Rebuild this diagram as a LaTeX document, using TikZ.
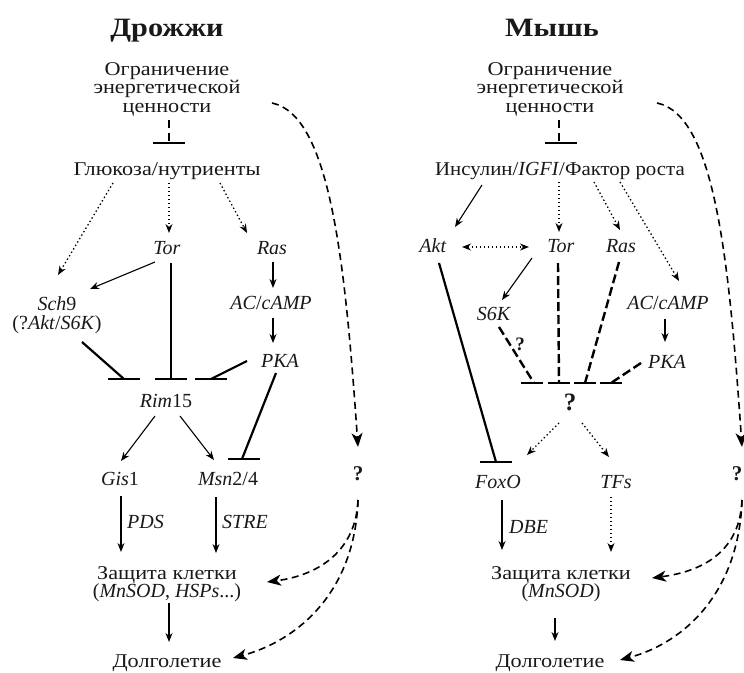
\documentclass[tikz,border=0pt]{standalone}
\usepackage{fontspec}
\setmainfont{Liberation Serif}
\newfontfamily\cyr{Liberation Serif}[FakeStretch=1.14]
\newfontfamily\cyrn{Liberation Serif}[FakeStretch=1.07]
\usetikzlibrary{arrows.meta,calc}
\begin{document}
\begin{tikzpicture}[x=1pt,y=-1pt,
  every node/.style={inner sep=0pt, font=\fontsize{20}{18.5}\selectfont, text=black!90},
  lbl/.style={anchor=base},
  ml/.style={align=center},
  cy/.style={font=\cyr\fontsize{19.5}{18.5}\selectfont},
  ttl/.style={anchor=base,font=\cyr\fontsize{26.5}{30}\selectfont\bfseries},
  qm/.style={anchor=base,font=\fontsize{21}{24}\selectfont\bfseries},
  tip/.tip={Stealth[length=9pt,width=7pt]},
  ar/.style={line width=1.1pt,-tip},
  dar/.style={ar, line width=1.3pt, dash pattern=on 1.4pt off 2.6pt},
  inhs/.style={line width=2.2pt},
  inhd/.style={line width=2.2pt,dash pattern=on 8pt off 4.5pt},
  inhdd/.style={line width=2.4pt,dash pattern=on 9pt off 4pt},
  barl/.style={line width=2.4pt},
  lar/.style={line width=1.6pt,dash pattern=on 7pt off 4.5pt,-{Stealth[length=14pt,width=11pt,inset=4pt]}},
]
\useasboundingbox (0,0) rectangle (744,672);

% ---------------- left: yeast ----------------
\node[ttl] (t1) at (167,36) {Дрожжи};
\node[ml,cy] (cr1) at (167,89) {Ограничение\\энергетической\\ценности};
\node[lbl,cy] (glu) at (167,175) {Глюкоза/нутриенты};
\node[lbl] (tor1) at (167,254) {\textit{Tor}};
\node[lbl] (ras1) at (272,254) {\textit{Ras}};
\node[ml] (sch) at (57,315) {\textit{Sch}9\\(?\textit{Akt}/\textit{S6K})};
\node[lbl] (ac1) at (271,309) {\textit{AC}/\textit{cAMP}};
\node[lbl] (pka1) at (280,367) {\textit{PKA}};
\node[lbl] (rim) at (166,407) {\textit{Rim}15};
\node[lbl] (gis) at (120,485) {\textit{Gis}1};
\node[lbl] (msn) at (228,485) {\textit{Msn}2/4};
\node[qm] (q1) at (358,480) {?};
\node[lbl,anchor=base west] (pds) at (127,528) {\textit{PDS}};
\node[lbl,anchor=base west] (stre) at (222,528) {\textit{STRE}};
\node[ml] (zas1) at (167,584) {{\cyr\fontsize{19.5}{18.5}\selectfont Защита клетки}\\(\textit{MnSOD}, \textit{HSPs}...)};
\node[lbl,cy] (dol1) at (167,667) {Долголетие};

\draw[inhd] ($(cr1.center)+(2,31)$) -- ($(glu.base)+(2,-32)$);
\draw[barl] ($(glu.base)+(-14,-32)$) -- ($(glu.base)+(18,-32)$);
\draw[dar] ($(glu.base)+(-54,8)$) -- ($(sch.center)+(1,-40)$);
\draw[dar] ($(glu.base)+(2,8)$) -- ($(tor1.base)+(2,-21)$);
\draw[dar] ($(glu.base)+(53,8)$) -- ($(ras1.base)+(-25,-21)$);
\draw[ar] ($(tor1.base)+(-12,8)$) -- ($(sch.center)+(33,-26)$);
\draw[ar] ($(ras1.base)+(1,8)$) -- ($(ac1.base)+(2,-21)$);
\draw[ar] ($(ac1.base)+(2,9)$) -- ($(pka1.base)+(-7,-24)$);
\coordinate (b1) at ($(rim.base)+(-42,-28)$);
\coordinate (b2) at ($(rim.base)+(5,-28)$);
\coordinate (b3) at ($(rim.base)+(45,-28)$);
\coordinate (b4) at ($(msn.base)+(16,-26)$);
\draw[inhs] ($(sch.center)+(25,27)$) -- (b1);
\draw[inhs] ($(tor1.base)+(4,9)$) -- (b2);
\draw[inhs] ($(pka1.base)+(-33,-6)$) -- (b3);
\draw[inhs] ($(pka1.base)+(-4,6)$) -- ($(b4)+(-2,0)$);
\foreach \b in {b1,b2,b3,b4} \draw[barl] ($(\b)+(-16,0)$) -- ($(\b)+(16,0)$);
\draw[ar] ($(rim.base)+(-11,9)$) -- ($(gis.base)+(1,-24)$);
\draw[ar] ($(rim.base)+(14,9)$) -- ($(msn.base)+(-14,-25)$);
\draw[ar] ($(gis.base)+(1,11)$) -- ($(zas1.center)+(-46,-32)$);
\draw[ar] ($(msn.base)+(-12,12)$) -- ($(zas1.center)+(49,-31)$);
\draw[ar] ($(zas1.center)+(2,19)$) -- ($(dol1.base)+(2,-25)$);
\draw[lar] ($(cr1.center)+(105,14)$) .. controls +(58,12) and +(-13,-187) .. ($(q1.base)+(0,-33)$);
\draw[lar] ($(q1.base)+(0,20)$) .. controls +(-2,50) and +(53,-7) .. ($(zas1.center)+(100,-2)$);
\draw[lar] ($(q1.base)+(0,20)$) .. controls +(-3,90) and +(67,-18) .. ($(dol1.base)+(66,-9)$);

% ---------------- right: mouse ----------------
\node[ttl] (t2) at (552,36) {Мышь};
\node[ml,cy] (cr2) at (550,89) {Ограничение\\энергетической\\ценности};
\node[lbl] (ins) at (560,175) {{\cyrn\fontsize{19.5}{18.5}\selectfont Инсулин/}\textit{IGFI}{\cyrn\fontsize{19.5}{18.5}\selectfont /Фактор роста}};
\node[lbl] (akt) at (433,252) {\textit{Akt}};
\node[lbl] (tor2) at (561,252) {\textit{Tor}};
\node[lbl] (ras2) at (621,252) {\textit{Ras}};
\node[lbl] (s6k) at (494,320) {\textit{S6K}};
\node[lbl] (ac2) at (668,309) {\textit{AC}/\textit{cAMP}};
\node[lbl] (pka2) at (667,368) {\textit{PKA}};
\node[qm,font=\fontsize{19}{22}\selectfont\bfseries] (qs) at (520,350) {?};
\node[qm,font=\fontsize{25}{28}\selectfont\bfseries] (q2) at (570,410) {?};
\node[lbl] (foxo) at (498,488) {\textit{FoxO}};
\node[lbl] (tfs) at (616,488) {\textit{TFs}};
\node[lbl,anchor=base west] (dbe) at (509,533) {\textit{DBE}};
\node[ml] (zas2) at (561,584) {{\cyr\fontsize{19.5}{18.5}\selectfont Защита клетки}\\(\textit{MnSOD})};
\node[lbl,cy] (dol2) at (550,667) {Долголетие};
\node[qm] (q3) at (737,480) {?};

\draw[inhd] ($(cr2.center)+(9,31)$) -- ($(ins.base)+(-1,-32)$);
\draw[barl] ($(ins.base)+(-15,-32)$) -- ($(ins.base)+(17,-32)$);
\draw[ar] ($(ins.base)+(-78,10)$) -- ($(akt.base)+(22,-25)$);
\draw[dar] ($(ins.base)+(-1,7)$) -- ($(tor2.base)+(-2,-20)$);
\draw[dar] ($(ins.base)+(34,7)$) -- ($(ras2.base)+(-1,-22)$);
\draw[dar] ($(ins.base)+(60,7)$) -- ($(ac2.base)+(11,-28)$);
\draw[dar,tip-tip] ($(akt.base)+(29,-5)$) -- ($(tor2.base)+(-32,-5)$);
\draw[ar] ($(tor2.base)+(-29,6)$) -- ($(s6k.base)+(8,-20)$);
\draw[ar] ($(ac2.base)+(-3,10)$) -- ($(pka2.base)+(-2,-26)$);
\coordinate (c1) at ($(q2.base)+(-38,-27)$);
\coordinate (c2) at ($(q2.base)+(-11,-27)$);
\coordinate (c3) at ($(q2.base)+(15,-27)$);
\coordinate (c4) at ($(q2.base)+(41,-27)$);
\draw[inhdd] ($(s6k.base)+(5,7)$) -- ($(c1)+(2,0)$);
\draw[inhdd] ($(tor2.base)+(-3,11)$) -- (c2);
\draw[inhdd] ($(ras2.base)+(-2,10)$) -- (c3);
\draw[inhdd] ($(pka2.base)+(-26,-5)$) -- (c4);
\foreach \b in {c1,c2,c3,c4} \draw[barl] ($(\b)+(-11,0)$) -- ($(\b)+(11,0)$);
\draw[dar] ($(q2.base)+(-11,13)$) -- ($(foxo.base)+(29,-33)$);
\draw[dar] ($(q2.base)+(12,13)$) -- ($(tfs.base)+(-7,-31)$);
\coordinate (c5) at ($(foxo.base)+(-2,-26)$);
\draw[inhs] ($(akt.base)+(6,11)$) -- (c5);
\draw[barl] ($(c5)+(-16,0)$) -- ($(c5)+(16,0)$);
\draw[ar] ($(foxo.base)+(4,12)$) -- ($(zas2.center)+(-59,-34)$);
\draw[dar] ($(tfs.base)+(-5,9)$) -- ($(zas2.center)+(50,-32)$);
\draw[ar] ($(zas2.center)+(-6,34)$) -- ($(dol2.base)+(5,-26)$);
\draw[lar] ($(cr2.center)+(107,14)$) .. controls +(58,12) and +(-13,-187) .. ($(q3.base)+(5,-33)$);
\draw[lar] ($(q3.base)+(5,20)$) .. controls +(-2,50) and +(53,-7) .. ($(zas2.center)+(91,-6)$);
\draw[lar] ($(q3.base)+(5,20)$) .. controls +(-3,90) and +(67,-18) .. ($(dol2.base)+(70,-7)$);
\end{tikzpicture}
\end{document}
